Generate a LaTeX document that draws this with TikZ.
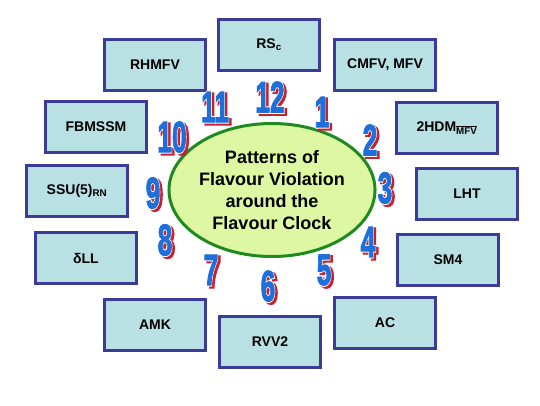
\documentclass[tikz,border=0pt]{standalone}
\usepackage{graphicx}
\usepackage{fontspec}
\setmainfont{Liberation Sans}
\newfontfamily\hourfont[FakeBold=2.5]{Liberation Sans Bold}
\newfontfamily\hourrim[FakeBold=7]{Liberation Sans Bold}
\usetikzlibrary{shapes.geometric}

\definecolor{boxfill}{HTML}{B9E0E3}
\definecolor{boxline}{HTML}{3B3B99}
\definecolor{ovalfill}{HTML}{DDF7A3}
\definecolor{ovalline}{HTML}{1F8A1F}
\definecolor{numblue}{HTML}{1F6FDB}
\definecolor{numred}{HTML}{C8202C}

\tikzset{
	model/.style={draw=boxline, fill=boxfill, line width=3pt, minimum width=101pt, minimum height=51pt, inner sep=0pt, font=\fontsize{14}{16}\selectfont\bfseries},
	clockface/.style={ellipse, draw=ovalline, fill=ovalfill, line width=3pt, minimum width=181pt, minimum height=133pt, inner sep=0pt, align=center, font=\fontsize{18}{22}\selectfont\bfseries},
	hour/.style={inner sep=0pt, font=\fontsize{44}{44}\hourfont},
	hourrim/.style={inner sep=0pt, font=\fontsize{44}{44}\hourrim}
}

\begin{document}
\begin{tikzpicture}[x=1pt,y=-1pt]
	\useasboundingbox (0,0) rectangle (540,405);

	% the models round the clock
	\node[model] (rs) at (269,45) {RS\textsubscript{c}};
	\node[model] (cmfv) at (385,65) {CMFV, MFV};
	\node[model] (thdm) at (447,128) {2HDM\textsubscript{$\overline{\hbox{MFV}}$}};
	\node[model] (lht) at (467,194) {LHT};
	\node[model] (smf) at (448,260) {SM4};
	\node[model] (ac) at (385,323) {AC};
	\node[model] (rvv) at (270,342) {RVV2};
	\node[model] (amk) at (155,325) {AMK};
	\node[model] (dll) at (86,258) {δLL};
	\node[model] (ssu) at (77,191) {SSU(5)\textsubscript{RN}};
	\node[model] (fbm) at (96,127) {FBMSSM};
	\node[model] (rhm) at (155,65) {RHMFV};

	% centre
	\node[clockface] (face) at (272,190) {Patterns of\\Flavour Violation\\around the\\Flavour Clock};

	% hours: red shadow, white rim, blue digits
	\foreach \n/\px/\py in {12/270/97, 1/322/112, 2/370/140, 3/385/188, 4/368/242, 5/324/270, 6/268/286, 7/211/270, 8/165/240, 9/153/193, 10/172/137, 11/215/107}{
		\node[hourrim, text=numred] at ({\px+2.5},{\py+2}) {\scalebox{.6}[1]{\n}};
		\node[hourrim, text=white] at (\px,\py) {\scalebox{.6}[1]{\n}};
		\node[hour, text=numblue] (h\n) at (\px,\py) {\scalebox{.6}[1]{\n}};
	}
\end{tikzpicture}
\end{document}
